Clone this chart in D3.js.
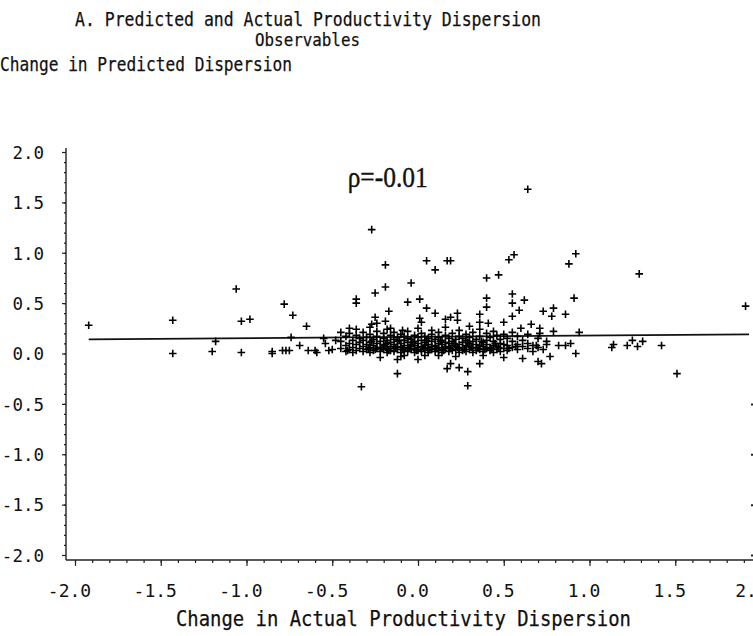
<!DOCTYPE html>
<html>
<head>
<meta charset="utf-8">
<script src="https://cdn.jsdelivr.net/npm/d3@7"></script>
<style>
  html, body { margin: 0; padding: 0; background: #fff; }
  svg { display: block; }
  text { font-family: "DejaVu Sans Mono", "Liberation Mono", monospace; fill: #111; }
</style>
</head>
<body>
<svg id="chart" width="753" height="636"></svg>
<script>
// ---- Text ----
const titleText = "A. Predicted and Actual Productivity Dispersion";
const subtitleText = "Observables";
const yTitleText = "Change in Predicted Dispersion";
const xTitleText = "Change in Actual Productivity Dispersion";
const rhoText = "\u03C1=-0.01";

// ---- Axis ticks ----
const xTickValues = [-2.0, -1.5, -1.0, -0.5, 0.0, 0.5, 1.0, 1.5, 2.0];
const yTickValues = [-2.0, -1.5, -1.0, -0.5, 0.0, 0.5, 1.0, 1.5, 2.0];
const minorTickValues = [-2.0,-1.9,-1.8,-1.7,-1.6,-1.5,-1.4,-1.3,-1.2,-1.1,-1.0,-0.9,-0.8,-0.7,-0.6,-0.5,-0.4,-0.3,-0.2,-0.1,0.0,0.1,0.2,0.3,0.4,0.5,0.6,0.7,0.8,0.9,1.0,1.1,1.2,1.3,1.4,1.5,1.6,1.7,1.8,1.9,2.0];
const rightTickValues = [-0.5, -1.0, -1.5, -2.0];

// ---- Fitted line ----
const fitX = [-1.92, 1.93];
const fitY = [0.14, 0.19];

// ---- Scatter: scattered observations [actual change, predicted change] ----
const outlierPoints = [
  [-1.92,0.28],[-1.43,0.33],[-1.43,0.00],[-1.20,0.02],[-1.18,0.12],[-1.06,0.64],
  [-1.03,0.32],[-0.98,0.34],[-1.03,0.01],[-0.85,0.00],[-0.85,0.02],[-0.79,0.03],
  [-0.77,0.03],[-0.75,0.03],[-0.78,0.49],[-0.73,0.38],[-0.74,0.16],[-0.69,0.08],
  [-0.65,0.27],[-0.64,0.03],[-0.60,0.03],[-0.59,0.01],[-0.55,0.15],[-0.54,0.10],
  [-0.52,0.03],[-0.50,0.04],[-0.48,0.13],[-0.45,0.21],[-0.41,0.03],[-0.40,0.25],
  [-0.36,0.50],[-0.36,0.54],[-0.33,-0.33],[-0.27,1.23],[-0.25,0.60],[-0.25,0.36],
  [-0.27,0.29],[-0.24,0.30],[-0.19,0.88],[-0.19,0.66],[-0.19,0.32],[-0.17,0.42],
  [-0.16,0.25],[-0.04,0.70],[-0.06,0.51],[0.01,0.54],[0.05,0.92],[0.10,0.83],
  [0.17,0.92],[0.19,0.92],[0.05,0.45],[0.10,0.40],[0.01,0.35],[0.02,0.31],
  [0.16,0.34],[0.23,0.40],[0.19,0.36],[0.23,0.33],[0.36,0.39],[0.36,0.31],
  [0.41,0.30],[0.40,0.75],[0.47,0.78],[0.40,0.55],[0.40,0.46],[0.53,0.93],
  [0.56,0.98],[0.55,0.59],[0.55,0.50],[0.62,0.53],[0.59,0.43],[0.55,0.37],
  [0.64,1.63],[0.73,0.42],[0.79,0.45],[0.78,0.37],[0.86,0.39],[0.88,0.89],
  [0.92,0.99],[0.91,0.55],[1.29,0.79],[1.91,0.47],[1.51,-0.20],[0.66,0.29],
  [0.60,0.25],[0.71,0.25],[0.71,0.20],[0.94,0.21],[0.79,0.22],[0.50,0.31],
  [-0.09,0.23],[1.14,0.09],[1.13,0.06],[1.22,0.08],[1.25,0.13],[1.28,0.07],
  [1.31,0.12],[1.42,0.08],[0.82,0.08],[0.86,0.08],[0.89,0.10],[0.92,0.00],
  [0.73,0.04],[0.77,-0.03],[0.72,-0.10],[0.69,0.08],[-0.12,-0.20],[-0.12,-0.06],
  [0.00,-0.06],[0.17,-0.15],[0.19,-0.10],[0.24,-0.14],[0.29,-0.18],[0.29,-0.32],
  [0.36,-0.10],[0.12,-0.02],[-0.08,-0.02]
];

// ---- Scatter: dense central cluster [actual change, predicted change] ----
const clusterPoints = [
  [-0.45,0.05],[-0.45,0.12],[-0.42,0.02],[-0.42,0.08],[-0.42,0.17],
  [-0.40,0.04],[-0.40,0.10],[-0.40,0.20],[-0.38,0.01],[-0.38,0.06],[-0.38,0.13],
  [-0.36,0.03],[-0.36,0.09],[-0.36,0.18],[-0.36,0.24],[-0.34,0.05],[-0.34,0.11],[-0.34,0.15],
  [-0.32,0.02],[-0.32,0.07],[-0.32,0.13],[-0.32,0.21],[-0.30,0.04],[-0.30,0.09],[-0.30,0.16],
  [-0.28,0.01],[-0.28,0.06],[-0.28,0.11],[-0.28,0.19],[-0.28,0.26],
  [-0.26,0.03],[-0.26,0.08],[-0.26,0.14],[-0.24,0.05],[-0.24,0.10],[-0.24,0.17],[-0.24,0.22],
  [-0.22,0.02],[-0.22,0.06],[-0.22,0.12],[-0.22,-0.04],[-0.20,0.04],[-0.20,0.08],[-0.20,0.15],[-0.20,0.20],
  [-0.18,0.01],[-0.18,0.05],[-0.18,0.10],[-0.18,0.13],[-0.18,0.24],
  [-0.16,0.03],[-0.16,0.07],[-0.16,0.11],[-0.16,0.18],
  [-0.14,0.02],[-0.14,0.05],[-0.14,0.09],[-0.14,0.14],[-0.14,0.21],
  [-0.12,0.04],[-0.12,0.07],[-0.12,0.12],[-0.12,0.16],
  [-0.10,0.01],[-0.10,0.06],[-0.10,0.10],[-0.10,0.19],[-0.10,-0.03],
  [-0.08,0.03],[-0.08,0.05],[-0.08,0.08],[-0.08,0.13],[-0.08,0.17],
  [-0.06,0.02],[-0.06,0.06],[-0.06,0.11],[-0.06,0.15],[-0.06,0.22],
  [-0.04,0.04],[-0.04,0.07],[-0.04,0.09],[-0.04,0.14],
  [-0.02,0.01],[-0.02,0.05],[-0.02,0.08],[-0.02,0.12],[-0.02,0.18],
  [0.00,0.03],[0.00,0.06],[0.00,0.10],[0.00,0.16],[0.00,0.25],
  [0.02,0.02],[0.02,0.04],[0.02,0.07],[0.02,0.13],[0.02,0.20],
  [0.04,0.05],[0.04,0.08],[0.04,0.11],[0.04,0.17],[0.04,-0.02],
  [0.06,0.01],[0.06,0.03],[0.06,0.06],[0.06,0.09],[0.06,0.15],
  [0.08,0.04],[0.08,0.07],[0.08,0.12],[0.08,0.19],[0.08,0.23],
  [0.10,0.02],[0.10,0.05],[0.10,0.08],[0.10,0.14],
  [0.12,0.03],[0.12,0.06],[0.12,0.10],[0.12,0.16],[0.12,0.21],
  [0.14,0.01],[0.14,0.04],[0.14,0.09],[0.14,0.13],
  [0.16,0.05],[0.16,0.07],[0.16,0.11],[0.16,0.18],[0.16,0.26],
  [0.18,0.02],[0.18,0.06],[0.18,0.10],[0.18,0.15],
  [0.20,0.03],[0.20,0.08],[0.20,0.12],[0.20,0.20],
  [0.22,0.04],[0.22,0.07],[0.22,0.14],[0.22,-0.03],
  [0.24,0.01],[0.24,0.05],[0.24,0.09],[0.24,0.17],[0.24,0.23],
  [0.26,0.03],[0.26,0.06],[0.26,0.11],[0.26,0.15],
  [0.28,0.02],[0.28,0.08],[0.28,0.13],[0.28,0.19],
  [0.30,0.04],[0.30,0.07],[0.30,0.10],[0.30,0.16],[0.30,0.27],
  [0.32,0.01],[0.32,0.05],[0.32,0.12],[0.32,0.21],
  [0.34,0.03],[0.34,0.06],[0.34,0.09],[0.34,0.14],
  [0.36,0.04],[0.36,0.08],[0.36,0.17],[0.36,0.24],
  [0.38,0.02],[0.38,0.07],[0.38,0.11],[0.38,-0.02],
  [0.40,0.05],[0.40,0.09],[0.40,0.13],[0.40,0.20],
  [0.42,0.03],[0.42,0.06],[0.42,0.16],
  [0.44,0.01],[0.44,0.08],[0.44,0.12],[0.44,0.22],
  [0.46,0.04],[0.46,0.07],[0.46,0.18],
  [0.48,0.02],[0.48,0.10],[0.48,0.14],
  [0.50,0.05],[0.50,0.09],[0.50,0.19],[0.50,-0.04],
  [0.52,0.03],[0.52,0.08],[0.52,0.15],
  [0.55,0.06],[0.55,0.12],[0.55,0.21],
  [0.58,0.04],[0.58,0.09],[0.58,0.17],
  [0.61,0.07],[0.61,0.13],[0.61,-0.05],
  [0.64,0.05],[0.64,0.10],[0.64,0.19],
  [0.67,0.08],[0.67,0.02],[0.70,0.06],[0.70,0.15],[0.70,-0.08],
  [0.75,0.09],[0.75,0.12]
];

// ---- Scatter: lower band just under the fitted line [actual change, predicted change] ----
const bandPoints = [
  [-0.29,0.05],[-0.25,0.04],[-0.21,0.06],[-0.17,0.03],[-0.13,0.06],[-0.09,0.04],
  [-0.05,0.05],[-0.01,0.03],[0.03,0.06],[0.07,0.04],[0.11,0.05],[0.15,0.03],
  [0.19,0.05],[0.23,0.06],[0.27,0.04],[0.31,0.06],[0.35,0.05],[0.39,0.04],
  [0.43,0.05],[0.47,0.06],[0.53,0.05],[0.57,0.07],[-0.27,0.12],[-0.19,0.09],
  [-0.11,0.13],[-0.03,0.11],[0.05,0.13],[0.13,0.12],[0.21,0.10],[0.29,0.11],
  [0.37,0.12],[0.45,0.10]
];

// ---- Layout ----
const svg = d3.select("#chart");
const W = 753, H = 636;
const axisXpx = 66, axisYpx = 560;

const x = d3.scaleLinear().domain([-2, 2]).range([75, 761]);
const y = d3.scaleLinear().domain([-2, 2]).range([555, 152]);

const fmt = d => d.toFixed(1);

// titles (tall, condensed monospace look of the original)
function title(txt, cx, baseY, size, len, anchor) {
  svg.append("text").attr("x", cx).attr("y", baseY).attr("text-anchor", anchor)
    .attr("font-size", size).attr("textLength", len).attr("lengthAdjust", "spacingAndGlyphs")
    .attr("stroke", "#111").attr("stroke-width", 0.25)
    .text(txt);
}
title(titleText, 75, 26, 19.5, 466, "start");
title(subtitleText, 255, 46, 18.5, 105, "start");
title(yTitleText, 0, 71, 19.5, 292, "start");
title(xTitleText, 176, 626, 21, 455, "start");

// y axis
const gY = svg.append("g").attr("transform", `translate(${axisXpx},0)`);
gY.call(d3.axisLeft(y).tickValues(minorTickValues).tickSize(2).tickFormat(""))
  .call(g => g.select(".domain").remove());
gY.append("g").call(d3.axisLeft(y).tickValues(yTickValues).tickSize(4).tickFormat(fmt))
  .call(g => g.select(".domain").remove())
  .call(g => g.selectAll("text").attr("x", -22).attr("dy", "0.36em")
    .attr("font-size", 17.5).attr("fill", "#111").attr("font-family", "DejaVu Sans Mono"));
gY.selectAll("line").attr("stroke", "#222").attr("stroke-width", 1.2);
svg.append("line").attr("x1", axisXpx).attr("x2", axisXpx).attr("y1", 148).attr("y2", axisYpx)
  .attr("stroke", "#222").attr("stroke-width", 1.4);

// x axis
const gX = svg.append("g").attr("transform", `translate(0,${axisYpx})`);
gX.call(d3.axisBottom(x).tickValues(minorTickValues).tickSize(3).tickFormat(""))
  .call(g => g.select(".domain").remove());
gX.append("g").call(d3.axisBottom(x).tickValues(xTickValues).tickSize(6).tickFormat(fmt))
  .call(g => g.select(".domain").remove())
  .call(g => g.selectAll("text").attr("y", 37).attr("dy", 0)
    .attr("dx", d => d === 2 ? -10 : -6)
    .attr("font-size", 18).attr("fill", "#111").attr("font-family", "DejaVu Sans Mono"));
gX.selectAll("line").attr("stroke", "#222").attr("stroke-width", 1.2);
svg.append("line").attr("x1", axisXpx).attr("x2", W).attr("y1", axisYpx).attr("y2", axisYpx)
  .attr("stroke", "#222").attr("stroke-width", 1.4);

// right frame ticks (frame itself lies just beyond the page edge)
svg.append("g").attr("transform", `translate(${W + 2},0)`)
  .call(d3.axisRight(y).tickValues(rightTickValues).tickSize(-4).tickFormat(""))
  .call(g => g.select(".domain").remove())
  .call(g => g.selectAll("line").attr("stroke", "#222").attr("stroke-width", 2));

// fitted line
svg.append("path")
  .datum(fitX.map((d, i) => [d, fitY[i]]))
  .attr("d", d3.line().x(d => x(d[0])).y(d => y(d[1])))
  .attr("fill", "none").attr("stroke", "#111").attr("stroke-width", 1.7);

// points as plus markers
const allPoints = outlierPoints.concat(clusterPoints, bandPoints);
const arm = 3.8;
svg.append("g").selectAll("path.pt").data(allPoints).join("path")
  .attr("class", "pt")
  .attr("d", d => `M${x(d[0]) - arm},${y(d[1])}H${x(d[0]) + arm}M${x(d[0])},${y(d[1]) - arm}V${y(d[1]) + arm}`)
  .attr("stroke", "#000").attr("stroke-width", 1.6).attr("fill", "none");

// correlation label
svg.append("text").attr("x", x(-0.41)).attr("y", y(1.65))
  .attr("font-size", 30)
  .attr("textLength", 80).attr("lengthAdjust", "spacingAndGlyphs")
  .attr("stroke", "#111").attr("stroke-width", 0.4)
  .style("font-family", "'Liberation Serif', serif")
  .text(rhoText);
</script>
</body>
</html>
